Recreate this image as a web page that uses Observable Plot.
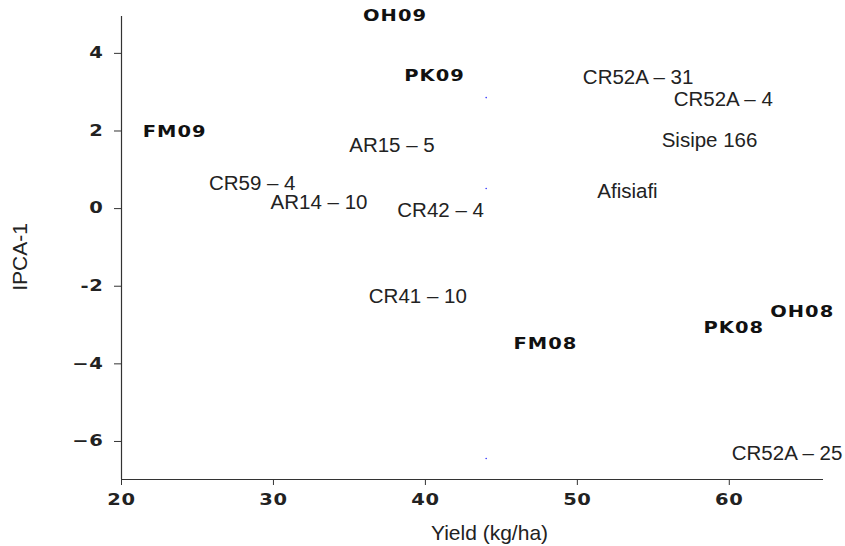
<!DOCTYPE html>
<html><head><meta charset="utf-8">
<script src="https://cdn.jsdelivr.net/npm/d3@7"></script>
<script src="https://cdn.jsdelivr.net/npm/@observablehq/plot@0.6"></script>
<style>
body{margin:0;background:#fff}
</style></head><body><div id="chart"></div>
<script>
const genotypes = ["CR52A – 31","CR52A – 4","Sisipe 166","AR15 – 5","CR59 – 4","AR14 – 10","CR42 – 4","Afisiafi","CR41 – 10","CR52A – 25"];
const genotypeYield = [54.0,59.6,58.7,37.8,28.6,33.0,41.0,53.3,39.5,63.8];
const genotypeIPCA = [3.38,2.81,1.75,1.62,0.64,0.15,-0.05,0.44,-2.27,-6.31];
const environments = ["OH09","PK09","FM09","FM08","PK08","OH08"];
const envYield = [38.0,40.6,23.5,47.9,60.3,64.8];
const envIPCA = [4.97,3.40,1.98,-3.5,-3.09,-2.68];
const refYield = [44.0,44.0,44.0];
const refIPCA = [2.86,0.52,-6.44];
const xTicks = [20,30,40,50,60];
const yTicks = [-6,-4,-2,0,2,4];
const yTickLabels = ["−6","−4","-2","0","2","4"];

const geno = genotypes.map((g,i)=>({label:g,x:genotypeYield[i],y:genotypeIPCA[i]}));
const env = environments.map((g,i)=>({label:g,x:envYield[i],y:envIPCA[i]}));
const ref = refYield.map((v,i)=>({x:v,y:refIPCA[i]}));
const xDomain=[20,66.2], yDomain=[-6.98,4.95];

const chart = Plot.plot({
  width:845, height:546,
  marginLeft:121, marginRight:22, marginTop:16, marginBottom:67,
  style:{fontFamily:"'Liberation Sans', Arial, sans-serif", background:"#fff", color:"#222"},
  x:{domain:xDomain},
  y:{domain:yDomain},
  marks:[
    Plot.ruleX([xDomain[0]],{stroke:"#333",strokeWidth:1.2}),
    Plot.ruleY([yDomain[0]],{stroke:"#333",strokeWidth:1.2}),
    Plot.axisY({ticks:yTicks, tickFormat:d=>yTickLabels[yTicks.indexOf(d)], tickSize:7, tickPadding:11,
      fontSize:15, fontWeight:"bold", fontFamily:"'DejaVu Sans', sans-serif", stroke:"#333",
      label:"IPCA-1", labelAnchor:"center", labelOffset:109, labelArrow:"none"}),
    Plot.axisX({ticks:xTicks, tickSize:6, tickPadding:9,
      fontSize:15, fontWeight:"bold", fontFamily:"'DejaVu Sans', sans-serif", stroke:"#333",
      label:"Yield (kg/ha)", labelAnchor:"center", labelOffset:60, labelArrow:"none"}),
    Plot.dot(ref,{x:"x",y:"y",r:0.8,fill:"#3030ff",stroke:null}),
    Plot.text(geno,{x:"x",y:"y",text:"label",fontSize:20.5,fill:"#222"}),
    Plot.text(env,{x:"x",y:"y",text:"label",fontSize:15,fontWeight:"bold",fontFamily:"'DejaVu Sans', sans-serif",fill:"#111"})
  ]
});
// axis labels: regular weight, same family as genotype labels
[["y-axis label","translate(0,9) "],["x-axis label","translate(17,0) "]].forEach(([name,shift])=>{
  chart.querySelectorAll(`g[aria-label="${name}"]`).forEach(g=>{
    g.setAttribute("font-weight","normal");
    g.setAttribute("font-family","'Liberation Sans', Arial, sans-serif");
    g.querySelectorAll("text").forEach(t=>{
      t.setAttribute("font-weight","normal");
      t.setAttribute("font-size","21");
      t.style.fontSize="21px";
      t.setAttribute("transform", shift + (t.getAttribute("transform")||""));
    });
  });
});
// wide glyph look for tick labels and environment labels
const widen = (g, sx, ls) => g.querySelectorAll("text").forEach(t=>{
  t.setAttribute("transform", (t.getAttribute("transform")||"") + ` scale(${sx},1)`);
  t.style.letterSpacing = ls;
});
chart.querySelectorAll('g[aria-label="y-axis tick label"], g[aria-label="x-axis tick label"]').forEach(g=>widen(g,1.3,"0.5px"));
const textGroups = chart.querySelectorAll('g[aria-label="text"]');
if (textGroups.length) widen(textGroups[textGroups.length-1],1.3,"0.8px");
document.getElementById("chart").appendChild(chart);
</script></body></html>
